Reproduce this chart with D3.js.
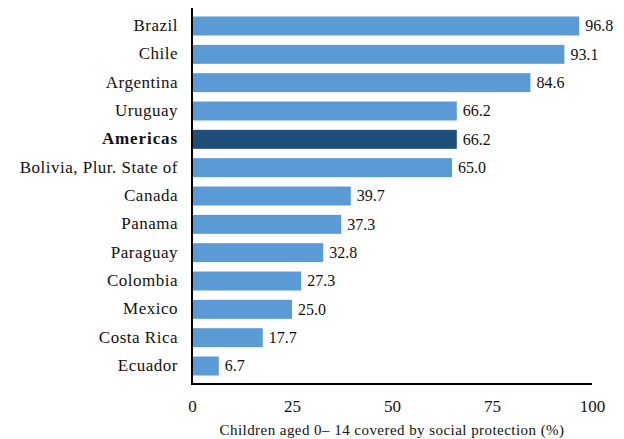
<!DOCTYPE html>
<html>
<head>
<meta charset="utf-8">
<script src="https://cdn.jsdelivr.net/npm/d3@7"></script>
<style>
  body { margin: 0; background: #fff; }
</style>
</head>
<body>
<svg id="chart" width="624" height="439"></svg>
<script>
const countries = ['Brazil','Chile','Argentina','Uruguay','Americas','Bolivia, Plur. State of',
  'Canada','Panama','Paraguay','Colombia','Mexico','Costa Rica','Ecuador'];
const values = [96.8, 93.1, 84.6, 66.2, 66.2, 65.0, 39.7, 37.3, 32.8, 27.3, 25.0, 17.7, 6.7];
const xTicks = [0, 25, 50, 75, 100];
const highlight = 'Americas';
const axisTitle = 'Children aged 0\u2013 14 covered by social protection (%)';

const FONT = "'Liberation Serif', serif";
const data = countries.map((c, i) => ({ name: c, value: values[i] }));

const svg = d3.select('#chart');
const m = { left: 192, right: 592, top: 8, bottom: 384 };

const x = d3.scaleLinear().domain([0, 100]).range([m.left, m.right]);
const y = d3.scaleBand().domain(countries).range([m.top, m.bottom])
  .paddingInner(0.33).paddingOuter(0.3);

// bars
svg.append('g').selectAll('rect')
  .data(data)
  .join('rect')
  .attr('x', x(0))
  .attr('y', d => y(d.name))
  .attr('width', d => x(d.value) - x(0))
  .attr('height', y.bandwidth())
  .attr('fill', d => d.name === highlight ? '#1f4e79' : '#5b9bd5');

// value labels
svg.append('g').selectAll('text')
  .data(data)
  .join('text')
  .attr('x', d => x(d.value) + 6)
  .attr('y', d => y(d.name) + y.bandwidth() / 2)
  .attr('dy', '0.33em')
  .style('font-family', FONT)
  .style('font-size', '16px')
  .style('fill', '#111')
  .text(d => d.value.toFixed(1));

// category labels
const yAxis = svg.append('g')
  .attr('transform', `translate(${m.left},0)`)
  .call(d3.axisLeft(y).tickSize(0).tickPadding(14));
yAxis.select('.domain').remove();
yAxis.selectAll('text')
  .attr('dy', '0.3em')
  .style('font-family', FONT)
  .style('font-size', '17px')
  .style('fill', '#111')
  .style('font-weight', d => d === highlight ? 'bold' : 'normal')
  .style('letter-spacing', d => d === highlight ? '0.9px' : '0.5px');

// x axis
const xAxis = svg.append('g')
  .attr('transform', `translate(0,${m.bottom})`)
  .call(d3.axisBottom(x).tickValues(xTicks).tickSize(0));
xAxis.select('.domain').remove();
xAxis.selectAll('text')
  .attr('y', 28)
  .attr('dy', 0)
  .style('font-family', FONT)
  .style('font-size', '17px')
  .style('fill', '#111');

// axis lines
svg.append('line')
  .attr('x1', m.left).attr('x2', m.left)
  .attr('y1', m.top).attr('y2', m.bottom + 1)
  .attr('stroke', '#000').attr('stroke-width', 2);
svg.append('line')
  .attr('x1', m.left - 1).attr('x2', m.right)
  .attr('y1', m.bottom).attr('y2', m.bottom)
  .attr('stroke', '#000').attr('stroke-width', 2);

svg.append('text')
  .attr('x', (m.left + m.right) / 2)
  .attr('y', 435)
  .attr('text-anchor', 'middle')
  .style('font-family', FONT)
  .style('font-size', '15px')
  .style('letter-spacing', '0.45px')
  .style('fill', '#111')
  .text(axisTitle);
</script>
</body>
</html>
